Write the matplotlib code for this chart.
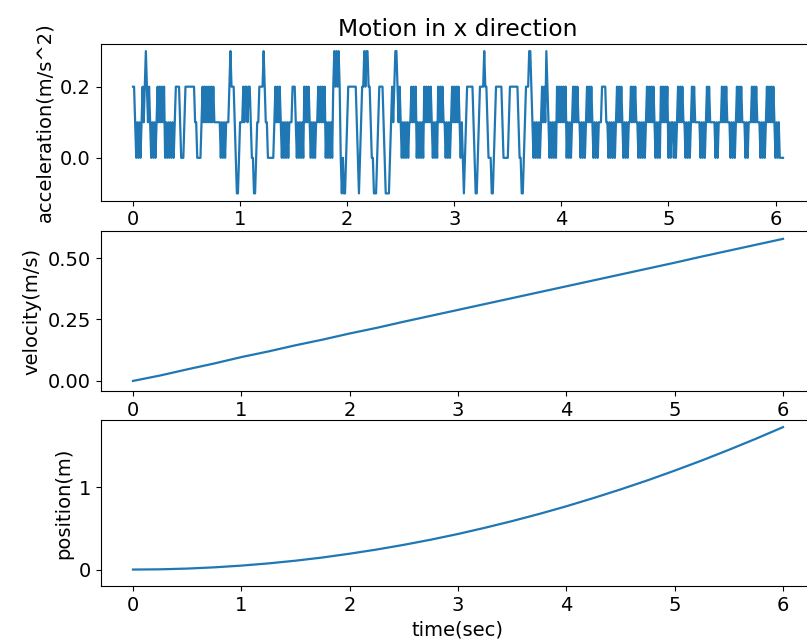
import matplotlib
matplotlib.use("Agg")
import matplotlib.pyplot as plt
import numpy as np

# acceleration samples, one code per 0.01 s
# 0 -> -0.1, 1 -> 0.0, 2 -> 0.1, 3 -> 0.2, 4 -> 0.3
acc_dt = 0.01
acc_codes = [
    "3321212123", "2343232121", "2123232323", "1212121212", "3333211123",
    "3333333322", "1111232323", "2323232222", "2212121222", "3433321001",
    "2223233233", "2110012233", "3343221111", "1123232321", "2121212223",
    "3321212121", "3232321212", "1223232323", "1212121343", "4343101001",
    "2333333332", "1012334344", "3321100012", "3333210000", "1232344323",
    "2121212122", "3232312121", "2132323232", "1212132323", "2212121232",
    "3232321210", "1233333321", "0012333343", "3211100123", "3333321111",
    "1233333333", "2110012333", "4432121212", "1232324321", "2121213232",
    "3232312121", "2323232212", "1212323232", "1212122233", "3322121212",
    "1232323212", "1212232323", "2212121212", "3232323212", "1213232323",
    "1212212123", "2323221212", "1232322222", "1212123232", "2222121222",
    "3232322212", "1212323232", "2212122232", "3232221212", "1232323232",
    "12121111",
]
acc_levels = [-0.1, 0.0, 0.1, 0.2, 0.3]

# velocity and position every 0.25 s
vp_time = [0.0, 0.25, 0.5, 0.75, 1.0, 1.25, 1.5, 1.75, 2.0, 2.25, 2.5, 2.75,
           3.0, 3.25, 3.5, 3.75, 4.0, 4.25, 4.5, 4.75, 5.0, 5.25, 5.5, 5.75, 6.0]
velocity = [0.0, 0.022, 0.047, 0.071, 0.097, 0.120, 0.145, 0.168, 0.193,
            0.216, 0.241, 0.265, 0.289, 0.313, 0.337, 0.361, 0.385, 0.409,
            0.433, 0.457, 0.481, 0.506, 0.530, 0.554, 0.578]
position = [0.0, 0.003, 0.012, 0.027, 0.048, 0.075, 0.108, 0.147, 0.193,
            0.244, 0.301, 0.364, 0.433, 0.509, 0.590, 0.677, 0.770, 0.870,
            0.975, 1.086, 1.204, 1.327, 1.457, 1.592, 1.733]

acc = np.array([acc_levels[int(c)] for c in "".join(acc_codes)])
acc_time = np.arange(len(acc)) * acc_dt

plt.rcParams['font.size'] = 14

W, H = 807, 639
fig = plt.figure(figsize=(W / 100, H / 100), dpi=100)

def box(top, bottom):
    # pixel rows -> figure fraction, axes run off the right edge like the screenshot
    return [100.5 / W, 1 - bottom / H, 715 / W, (bottom - top) / H]

ax1 = fig.add_axes(box(44, 200.5))
ax2 = fig.add_axes(box(231, 391))
ax3 = fig.add_axes(box(420, 586))

ax1.plot(acc_time, acc, lw=1.6)
ax1.set_ylabel('acceleration(m/s^2)')
ax1.set_title('Motion in x direction')
ax1.set_yticks([0.0, 0.2])

ax2.plot(vp_time, velocity, lw=1.6)
ax2.set_ylabel('velocity(m/s)')
ax2.set_yticks([0.0, 0.25, 0.5])
ax2.set_ylim(-0.041, 0.61)

ax3.plot(vp_time, position, lw=1.6)
ax3.set_ylabel('position(m)')
ax3.set_xlabel('time(sec)')
ax3.set_yticks([0, 1])
ax3.set_ylim(-0.2, 1.82)

for ax in (ax1, ax2, ax3):
    ax.set_xticks([0, 1, 2, 3, 4, 5, 6])

fig.savefig('out.png', dpi=100)
